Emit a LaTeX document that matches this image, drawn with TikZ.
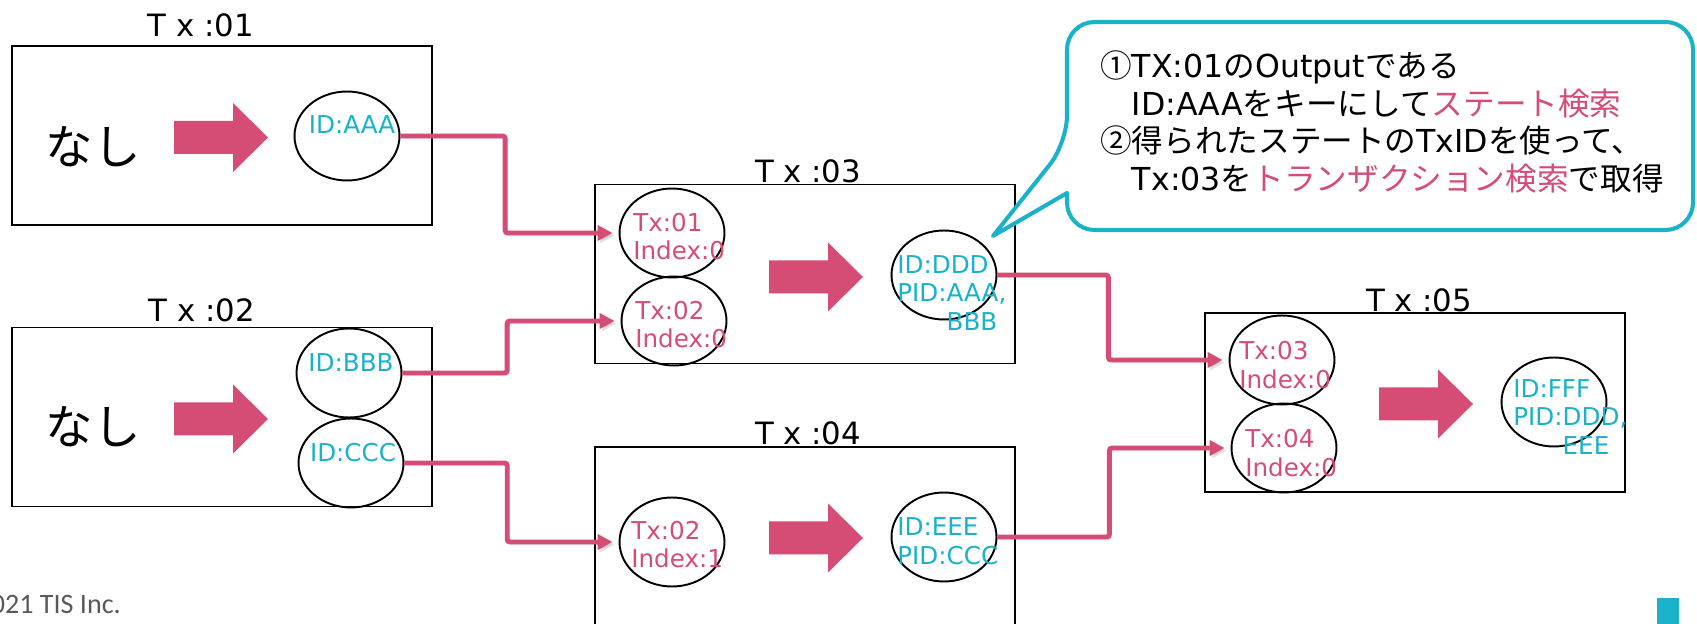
\documentclass[tikz,border=0pt]{standalone}
\usepackage{fontspec}
\setmainfont{DejaVu Sans}
\newfontfamily\jp{Noto Sans CJK JP}
\newfontfamily\slidefont{Carlito}
\usetikzlibrary{arrows.meta,calc,shapes.geometric}
\definecolor{rose}{HTML}{D54C75}
\definecolor{lagoon}{HTML}{19B2C9}
\definecolor{slidegray}{HTML}{595959}
\tikzset{>=Latex,
  txbox/.style={draw,line width=1.1pt,inner sep=0pt,minimum width=8.4cm,minimum height=3.58cm},
  txtitle/.style={font=\fontsize{17.5}{20}\selectfont},
  nashi/.style={font=\jp\fontsize{27}{30}\selectfont},
  utxo/.style={ellipse,draw,line width=1.1pt,inner sep=0pt,minimum width=2.1cm,minimum height=1.78cm},
  outtext/.style={text=lagoon,inner sep=0pt,align=left,font=\fontsize{14}{16.4}\selectfont},
  reftext/.style={outtext,text=rose},
  link/.style={draw=rose,line width=2.8pt,rounded corners=1.5pt,
    -{Triangle[length=8.5pt,width=8.5pt]},shorten >=3.4pt,
    preaction={draw=black!45,opacity=.25,transform canvas={shift={(1.2pt,-1.5pt)}}}},
  callout/.style={draw=lagoon,line width=2.3pt,fill=white,line join=round},
  notetext/.style={align=left,inner sep=0pt,font=\fontsize{18}{21.5}\selectfont},
  pics/fatarrow/.style={code={
    \fill[rose] (0,-16.5) -- (59,-16.5) -- (59,-34.5) -- (94,0) -- (59,34.5) -- (59,16.5) -- (0,16.5) -- cycle;}}}

\begin{document}
\begin{tikzpicture}[x=0.02cm,y=-0.02cm]
\useasboundingbox (0,0) rectangle (1697,624);
% transactions
\node[txbox] (tx01) at (222,135.5) {};
\node[txbox] (tx02) at (222,417) {};
\node[txbox] (tx03) at (805,274) {};
\node[txbox] (tx04) at (805,536.5) {};
\node[txbox] (tx05) at (1415,402.5) {};
\node[txtitle] (tx01-title) at (201,25) {T x :01};
\node[txtitle] (tx02-title) at (202,310) {T x :02};
\node[txtitle] (tx03-title) at (808,171) {T x :03};
\node[txtitle] (tx04-title) at (808,433) {T x :04};
\node[txtitle] (tx05-title) at (1419,300) {T x :05};
\node[nashi] (tx01-in) at (93,147) {なし};
\node[nashi] (tx02-in) at (93,427) {なし};
\pic at (174,137.5) {fatarrow};
\pic at (174,419) {fatarrow};
\pic at (769,277) {fatarrow};
\pic at (769,538) {fatarrow};
\pic at (1379,404) {fatarrow};
% states (outputs) and references (inputs)
\node[utxo] (aaa) at (347,136) {};
\node[utxo] (bbb) at (349,373) {};
\node[utxo] (ccc) at (351,463) {};
\node[utxo] (in03a) at (672,233) {};
\node[utxo] (in03b) at (674,321) {};
\node[utxo] (ddd) at (944,275) {};
\node[utxo] (in04) at (672,542) {};
\node[utxo] (eee) at (944,537) {};
\node[utxo] (in05a) at (1282,360) {};
\node[utxo] (in05b) at (1284,448) {};
\node[utxo] (fff) at (1554,402) {};
\node[outtext] (aaa-t) at (352,125) {ID:AAA};
\node[outtext] (bbb-t) at (351,363) {ID:BBB};
\node[outtext] (ccc-t) at (353,453) {ID:CCC};
\node[reftext,anchor=west] (in03a-t) at (633,236.5) {Tx:01\\Index:0};
\node[reftext,anchor=west] (in03b-t) at (635,324.5) {Tx:02\\Index:0};
\node[reftext,anchor=west] (in04-t) at (631,544.5) {Tx:02\\Index:1};
\node[reftext,anchor=west] (in05a-t) at (1239,365) {Tx:03\\Index:0};
\node[reftext,anchor=west] (in05b-t) at (1245,453) {Tx:04\\Index:0};
\node[outtext,anchor=west] (ddd-t) at (897,293) {ID:DDD\\PID:AAA,\\\phantom{PID:}BBB};
\node[outtext,anchor=west] (eee-t) at (897,541.5) {ID:EEE\\PID:CCC};
\node[outtext,anchor=west] (fff-t) at (1513,417) {ID:FFF\\PID:DDD,\\\phantom{PID:}EEE};
% spent outputs
\draw[link] (aaa.east) -| ($(aaa.east)!.48!(in03a.west)$) |- (in03a.west);
\draw[link] (bbb.east) -| ($(bbb.east)!.48!(in03b.west)$) |- (in03b.west);
\draw[link] (ccc.east) -| ($(ccc.east)!.48!(in04.west)$) |- (in04.west);
\draw[link] (ddd.east) -| ($(ddd.east)!.48!(in05a.west)$) |- (in05a.west);
\draw[link] (eee.east) -| ($(eee.east)!.48!(in05b.west)$) |- (in05b.west);
% note
\draw[callout] (993,236) -- (1067,193) [rounded corners=.55cm] -- (1067,230) -- (1693,230)
  -- (1693,22) -- (1067,22) -- (1067,143) [sharp corners] -- cycle;
\node[notetext,anchor=west] (note) at (1100,122) {%
  {\jp ①}TX:01{\jp の}Output{\jp である}\\
  \phantom{\jp ①}ID:AAA{\jp をキーにして\textcolor{rose}{ステート検索}}\\
  {\jp ②得られたステートの}TxID{\jp を使って、}\\
  \phantom{\jp ①}Tx:03{\jp を\textcolor{rose}{トランザクション検索}で取得}};
% footer
\node[anchor=base east,text=slidegray,font=\slidefont\fontsize{16}{19}\selectfont] (copy) at (127,613) {©2021 TIS Inc.};
\fill[lagoon] (1657,598) rectangle (1679,626);
\node[anchor=base west,font=\slidefont\bfseries\fontsize{20}{24}\selectfont] (pageno) at (1692,616) {2};
\end{tikzpicture}
\end{document}
